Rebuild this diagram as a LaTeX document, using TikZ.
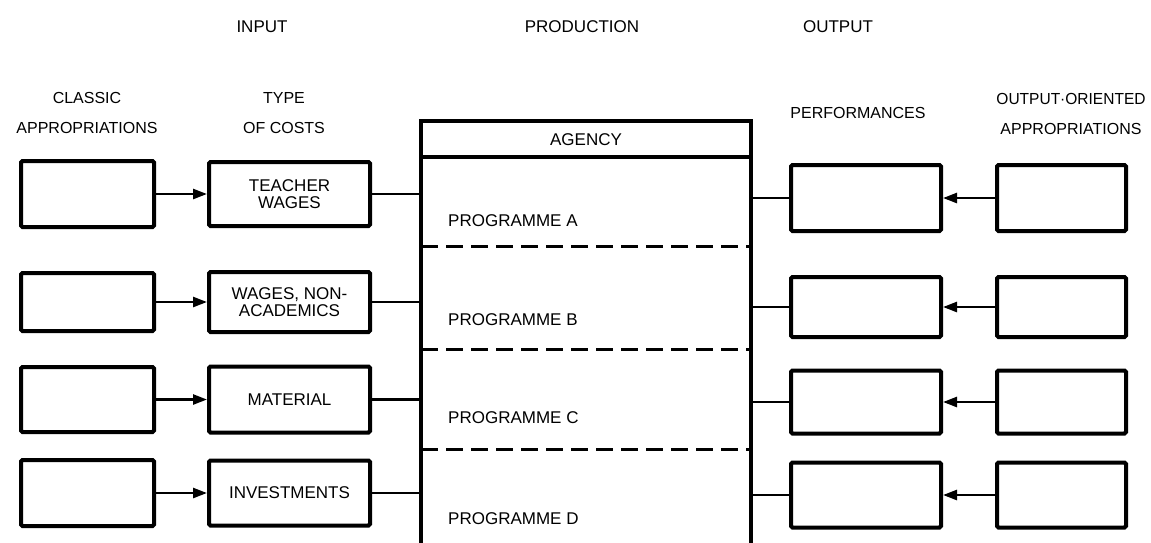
\documentclass[tikz,border=0pt]{standalone}
\usepackage{fontspec}
\setmainfont{Liberation Sans}
\usetikzlibrary{arrows.meta}
\begin{document}
\begin{tikzpicture}[x=1pt,y=-1pt,
  lbl/.style={font=\fontsize{17}{18}\selectfont, align=center, inner sep=0pt},
  head/.style={font=\fontsize{16}{17}\selectfont, align=center, inner sep=0pt},
  box/.style={draw, line width=4pt, rounded corners=1.5pt, minimum height=#1, inner sep=0pt,
              font=\fontsize{17}{17}\selectfont, align=center},
  classicbox/.style={box=#1, minimum width=133pt},
  costbox/.style={box=#1, minimum width=161pt},
  perfbox/.style={box=#1, minimum width=150pt},
  orientbox/.style={box=#1, minimum width=129pt},
  link/.style={line width=2.5pt},
  feed/.style={line width=2.5pt, -{Triangle[length=14pt,width=10pt]}},
  sep/.style={line width=3pt, dash pattern=on 17pt off 8pt},
  frame/.style={line width=3.5pt}
]
\useasboundingbox (0,0) rectangle (1151,542);

% column headings
\node[lbl] (hin)   at (262,27) {INPUT};
\node[lbl] (hprod) at (582,27) {PRODUCTION};
\node[lbl] (hout)  at (838,27) {OUTPUT};
\node[head] (hcl)   at (87,113)  {CLASSIC\\[13pt]APPROPRIATIONS};
\node[head] (hty)   at (284,113) {TYPE\\[13pt]OF COSTS};
\node[head] (hpe)   at (858,113) {PERFORMANCES};
\node[head] (hor)   at (1071,114) {\scalebox{0.97}[1]{OUTPUT·ORIENTED}\\[13pt]APPROPRIATIONS};

% agency frame, open at the bottom
\coordinate (agL) at (421,0);
\coordinate (agR) at (751,0);
\draw[frame] (421,545) -- (421,121) -- (751,121) -- (751,545);
\draw[frame] (421,157) -- (751,157);
\node[lbl] (agency) at (586,140) {AGENCY};
\draw[sep] (421,246) -- (751,246);
\draw[sep] (421,349) -- (751,349);
\draw[sep] (421,449) -- (751,449);
\node[lbl, anchor=west] (pa) at (448,221) {PROGRAMME A};
\node[lbl, anchor=west] (pb) at (448,320) {PROGRAMME B};
\node[lbl, anchor=west] (pc) at (448,418) {PROGRAMME C};
\node[lbl, anchor=west] (pd) at (448,519) {PROGRAMME D};

% input side
\node[classicbox=66pt] (c1) at (87.5,194) {};
\node[classicbox=58pt] (c2) at (87.5,302) {};
\node[classicbox=65pt] (c3) at (87.5,399.5) {};
\node[classicbox=66pt] (c4) at (87.5,493) {};
\node[costbox=64pt] (t1) at (289.5,194) {TEACHER\\WAGES};
\node[costbox=60pt] (t2) at (289.5,302) {WAGES, NON-\\ACADEMICS};
\node[costbox=66pt] (t3) at (289.5,399.5) {MATERIAL};
\node[costbox=65pt] (t4) at (289.5,493) {INVESTMENTS};
\foreach \i in {1,...,4} {
  \draw[feed] (c\i.east) -- (t\i.west);
  \draw[link] (t\i.east) -- (t\i.east -| agL);
}

% output side
\node[perfbox=66pt] (p1) at (866,198) {};
\node[perfbox=60pt] (p2) at (866,307) {};
\node[perfbox=63pt] (p3) at (866,402) {};
\node[perfbox=65pt] (p4) at (866,495) {};
\node[orientbox=66pt] (o1) at (1061.5,198) {};
\node[orientbox=60pt] (o2) at (1061.5,307) {};
\node[orientbox=63pt] (o3) at (1061.5,402) {};
\node[orientbox=65pt] (o4) at (1061.5,495) {};
\foreach \i in {1,...,4} {
  \draw[feed] (o\i.west) -- (p\i.east);
  \draw[link] (p\i.west -| agR) -- (p\i.west);
}
\end{tikzpicture}
\end{document}
